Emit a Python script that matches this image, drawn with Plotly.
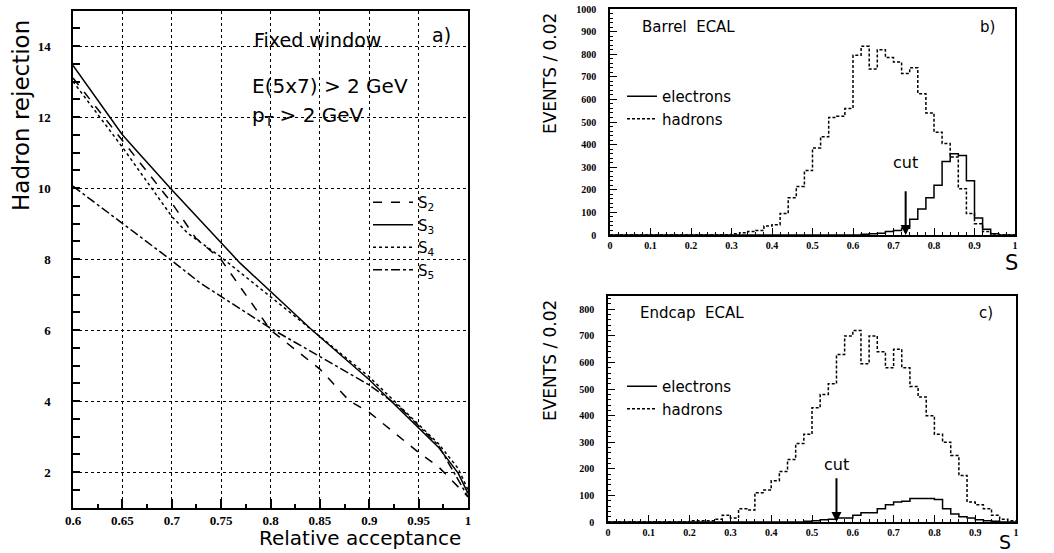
import numpy as np
import plotly.graph_objects as go

W, H = 1054, 553

# ---------------- Panel a) : hadron rejection vs relative acceptance ----------------
s2_x = [0.6, 0.65, 0.7, 0.724, 0.75, 0.8, 0.85, 0.88, 0.9, 0.95, 0.97, 1.0]
s2_y = [13.1, 11.35, 9.58, 8.6, 7.98, 6.0, 4.9, 4.0, 3.68, 2.55, 2.15, 1.3]
s3_x = [0.6, 0.65, 0.666, 0.7, 0.769, 0.842, 0.9, 0.95, 0.97, 0.99, 1.0]
s3_y = [13.45, 11.5, 11.0, 9.95, 7.89, 6.0, 4.6, 3.24, 2.7, 1.97, 1.4]
s4_x = [0.6, 0.65, 0.7, 0.716, 0.75, 0.8, 0.842, 0.9, 0.95, 0.97, 0.99, 1.0]
s4_y = [13.0, 11.15, 9.2, 8.73, 8.05, 6.95, 6.0, 4.68, 3.35, 2.8, 2.1, 1.5]
s5_x = [0.6, 0.65, 0.698, 0.729, 0.75, 0.8, 0.85, 0.9, 0.93, 0.95, 0.97, 1.0]
s5_y = [10.05, 9.0, 8.0, 7.32, 6.95, 6.05, 5.25, 4.45, 3.85, 3.3, 2.75, 1.3]

acc_ticks = [0.6, 0.65, 0.7, 0.75, 0.8, 0.85, 0.9, 0.95, 1.0]
acc_ticktext = ["0.6", "0.65", "0.7", "0.75", "0.8", "0.85", "0.9", "0.95", "1"]

# ---------------- Panels b) and c) : histograms of S (bin width 0.02) ----------------
bin_edges = [round(0.02 * i, 2) for i in range(51)]

barrel_hadrons = [0] * 15 + [5, 10, 15, 20, 40, 45, 95, 165, 215, 285,
                             385, 435, 520, 525, 560, 795, 835, 735, 820, 785,
                             765, 715, 740, 625, 540, 455, 405, 345, 205, 95,
                             50, 15, 0, 0, 0]
barrel_electrons = [0] * 31 + [3, 5, 8, 15, 20, 30, 70, 115, 165, 220,
                               325, 360, 352, 240, 75, 25, 5, 0, 0]
endcap_hadrons = [0] * 10 + [5, 5, 5, 10, 25, 15, 50, 45, 110, 120,
                             155, 190, 235, 295, 330, 430, 480, 520, 630, 700,
                             720, 595, 700, 640, 580, 650, 580, 510, 470, 400,
                             330, 300, 250, 175, 75, 65, 50, 25, 10, 5]
endcap_electrons = [0] * 24 + [3, 5, 8, 10, 15, 15, 25, 35, 35, 50,
                               65, 75, 78, 88, 88, 88, 85, 50, 30, 20,
                               15, 8, 5, 3, 0, 0]

s_ticks = [0, 0.1, 0.2, 0.3, 0.4, 0.5, 0.6, 0.7, 0.8, 0.9, 1.0]
s_ticktext = ["0", "0.1", "0.2", "0.3", "0.4", "0.5", "0.6", "0.7", "0.8", "0.9", "1"]

barrel_cut = 0.73
endcap_cut = 0.56


def px_x(p):
    return p / W


def px_y(p):
    return 1 - p / H


fig = go.Figure()

# left panel curves
curves = [("S<sub>2</sub>", s2_x, s2_y, "dash"),
          ("S<sub>3</sub>", s3_x, s3_y, "solid"),
          ("S<sub>4</sub>", s4_x, s4_y, "dot"),
          ("S<sub>5</sub>", s5_x, s5_y, "dashdot")]
for name, xs, ys, dash in curves:
    fig.add_trace(go.Scatter(x=xs, y=ys, mode="lines", name=name,
                             line=dict(color="black", width=1.5, dash=dash),
                             xaxis="x", yaxis="y", legend="legend"))


def hist_xy(vals):
    return bin_edges, list(vals) + [vals[-1]]


for vals, name, dash, ax, lg in [
        (barrel_electrons, "electrons", "solid", "2", "legend2"),
        (barrel_hadrons, "hadrons", "3px,2px", "2", "legend2"),
        (endcap_electrons, "electrons", "solid", "3", "legend3"),
        (endcap_hadrons, "hadrons", "3px,2px", "3", "legend3")]:
    hx, hy = hist_xy(vals)
    fig.add_trace(go.Scatter(x=hx, y=hy, mode="lines", name=name, line_shape="hv",
                             line=dict(color="black", width=1.5, dash=dash),
                             xaxis="x" + ax, yaxis="y" + ax, legend=lg))

tickfont_big = dict(family="Liberation Serif", size=13, color="black", weight="bold")
tickfont_small = dict(family="Liberation Serif", size=10, color="black", weight="bold")
label_font = "DejaVu Sans"

common_axis = dict(showline=True, linecolor="black", linewidth=1.5, mirror=True,
                   ticks="inside", tickcolor="black", zeroline=False, automargin=False)

fig.update_layout(
    width=W, height=H,
    margin=dict(l=0, r=0, t=0, b=0, autoexpand=False),
    paper_bgcolor="white", plot_bgcolor="white",
    showlegend=True,
    xaxis=dict(domain=[px_x(73), px_x(468)], range=[0.6, 1.0],
               tickvals=acc_ticks, ticktext=acc_ticktext, ticklen=9, tickwidth=1.5,
               minor=dict(dtick=0.025, tick0=0.6, ticklen=4, ticks="inside", tickcolor="black", showgrid=False),
               showgrid=True, gridcolor="black", griddash="dot", gridwidth=1,
               tickfont=tickfont_big, anchor="y", **common_axis),
    yaxis=dict(domain=[px_y(507.5), px_y(10.5)], range=[1, 15],
               tick0=2, dtick=2, ticklen=7, tickwidth=1.5,
               minor=dict(dtick=0.5, tick0=1, ticklen=7, ticks="inside", tickcolor="black", showgrid=False),
               showgrid=True, gridcolor="black", griddash="dot", gridwidth=1,
               tickfont=tickfont_big, ticklabelstandoff=18, anchor="x", **common_axis),
    xaxis2=dict(domain=[px_x(610), px_x(1015)], range=[0, 1],
                tickvals=s_ticks, ticktext=s_ticktext, ticklen=7,
                minor=dict(dtick=0.02, tick0=0, ticklen=3, ticks="inside", tickcolor="black"),
                showgrid=False, tickfont=tickfont_small, anchor="y2", **common_axis),
    yaxis2=dict(domain=[px_y(235), px_y(9)], range=[0, 1000],
                dtick=100, ticklen=7,
                minor=dict(dtick=20, ticklen=3, ticks="inside", tickcolor="black"),
                showgrid=False, tickfont=tickfont_small, ticklabelstandoff=10,
                anchor="x2", **common_axis),
    xaxis3=dict(domain=[px_x(608), px_x(1016)], range=[0, 1],
                tickvals=s_ticks, ticktext=s_ticktext, ticklen=7,
                minor=dict(dtick=0.02, tick0=0, ticklen=3, ticks="inside", tickcolor="black"),
                showgrid=False, tickfont=tickfont_small, anchor="y3", **common_axis),
    yaxis3=dict(domain=[px_y(522), px_y(296)], range=[0, 850],
                dtick=100, ticklen=7,
                minor=dict(dtick=20, ticklen=3, ticks="inside", tickcolor="black"),
                showgrid=False, tickfont=tickfont_small, ticklabelstandoff=10,
                anchor="x3", **common_axis),
    legend=dict(x=px_x(368), y=px_y(186), xanchor="left", yanchor="top",
                bgcolor="rgba(0,0,0,0)", font=dict(family=label_font, size=15, color="black"),
                tracegroupgap=0, itemwidth=40),
    legend2=dict(x=px_x(622), y=px_y(80), xanchor="left", yanchor="top",
                 bgcolor="rgba(0,0,0,0)", font=dict(family=label_font, size=15, color="black"),
                 itemwidth=30),
    legend3=dict(x=px_x(622), y=px_y(370), xanchor="left", yanchor="top",
                 bgcolor="rgba(0,0,0,0)", font=dict(family=label_font, size=15, color="black"),
                 itemwidth=30),
)

ann = []


def text(x, y, s, size, xanchor="left", angle=0):
    ann.append(dict(x=px_x(x), y=px_y(y), xref="paper", yref="paper", text=s, showarrow=False,
                    xanchor=xanchor, yanchor="middle", textangle=angle,
                    font=dict(family=label_font, size=size, color="black")))


# panel a texts
text(252, 40, "Fixed window", 19)
text(430, 35, "a)", 19)
text(250, 86, "E(5x7) &gt; 2 GeV", 20)
text(250, 116, "p<sub>T</sub> &gt; 2 GeV", 20)
text(21, 116, "Hadron rejection", 23, xanchor="center", angle=-90)
text(463, 538, "Relative acceptance", 20, xanchor="right")

# panel b texts
text(640, 27, "Barrel  ECAL", 15)
text(997, 27, "b)", 15, xanchor="right")
text(550, 74, "EVENTS / 0.02", 17, xanchor="center", angle=-90)
text(1011, 263, "S", 21, xanchor="center")

# panel c texts
text(638, 313, "Endcap  ECAL", 15)
text(995, 313, "c)", 15, xanchor="right")
text(550, 361, "EVENTS / 0.02", 17, xanchor="center", angle=-90)
text(1005, 542, "S", 19, xanchor="center")

# cut arrows
for xa, ya, cut, top, ty in [("x2", "y2", barrel_cut, 200, 320), ("x3", "y3", endcap_cut, 170, 215)]:
    ann.append(dict(x=cut, y=0, xref=xa, yref=ya, ax=cut, ay=top, axref=xa, ayref=ya,
                    showarrow=True, arrowhead=2, arrowsize=1, arrowwidth=2, arrowcolor="black",
                    text=""))
    ann.append(dict(x=cut, y=ty, xref=xa, yref=ya, text="cut", showarrow=False,
                    xanchor="center", yanchor="middle",
                    font=dict(family=label_font, size=16, color="black")))

fig.update_layout(annotations=ann)
fig.write_html("out.html", config={"displayModeBar": False},
               post_script="document.body.style.margin='0px';document.body.style.overflow='hidden';")
